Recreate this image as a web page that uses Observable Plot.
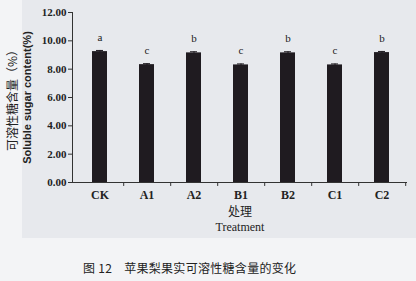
<!DOCTYPE html>
<html><head><meta charset="utf-8">
<script src="https://cdn.jsdelivr.net/npm/d3@7"></script>
<script src="https://cdn.jsdelivr.net/npm/@observablehq/plot@0.6"></script>
<style>
html,body{margin:0;padding:0;background:#f3f4f6;}
#wrap{position:relative;width:416px;height:281px;overflow:hidden;background:#f3f4f6;}
#panel{position:absolute;left:22px;top:0;width:394px;height:238px;background:#e7e9ed;}
#chart{position:absolute;left:0;top:0;}
#caption{position:absolute;left:83px;top:259px;font-family:"Noto Sans CJK SC",sans-serif;font-size:12px;color:#222;white-space:pre;letter-spacing:0.3px;}
</style></head>
<body><div id="wrap"><div id="panel"></div><div id="chart"></div><div id="caption">图 12    苹果梨果实可溶性糖含量的变化</div></div>
<script>
const categories = ["CK","A1","A2","B1","B2","C1","C2"];
const values = [9.24, 8.32, 9.15, 8.30, 9.15, 8.30, 9.17];
const errors = [0.08, 0.07, 0.08, 0.07, 0.08, 0.07, 0.08];
const letters = ["a","c","b","c","b","c","b"];
const yTicks = [0,2,4,6,8,10,12];
const yTitleCn = "可溶性糖含量（%）";
const yTitleEn = "Soluble sugar content(%)";
const xTitleCn = "处理";
const xTitleEn = "Treatment";

const data = categories.map((c,i)=>({cat:c, v:values[i], e:errors[i], l:letters[i]}));
const ink = "#1f1b20";
const serif = "'Liberation Serif', 'DejaVu Serif', serif";
const cjk = "'Noto Sans CJK SC', sans-serif";

const chart = Plot.plot({
  width: 416, height: 240,
  marginLeft: 72, marginRight: 9, marginTop: 12, marginBottom: 58,
  style: {background: "transparent", fontFamily: serif, color: "#222", overflow: "visible"},
  x: {domain: categories, range: [75, 407], paddingInner: 0.68, paddingOuter: 0.34, axis: null},
  y: {domain: [0, 12], axis: null},
  marks: [
    Plot.barY(data, {x: "cat", y: "v", fill: ink}),
    Plot.ruleX(data, {x: "cat", y1: d => d.v - d.e, y2: d => d.v + d.e, stroke: ink, strokeWidth: 1}),
    Plot.tickY(data, {x: "cat", y: d => d.v + d.e, stroke: ink, strokeWidth: 1, insetLeft: 4, insetRight: 4}),
    Plot.text(data, {x: "cat", y: d => d.v + d.e, text: "l", dy: -13, fontSize: 11, fontFamily: serif, fill: "#222"}),
    Plot.ruleY([0], {stroke: "#333", strokeWidth: 1}),
    Plot.frame({anchor: "left", stroke: "#333", strokeWidth: 1}),
    Plot.ruleX(categories, {x: d => d, y1: 0, y2: -0.28, dx: 23.7, stroke: "#333", strokeWidth: 1, clip: false}),
    Plot.axisY(yTicks, {label: null, tickSize: 4, tickPadding: 2, tickFormat: d => d.toFixed(2), fontSize: 11, fontWeight: "bold", fontFamily: serif, stroke: "#333", fill: "#222"}),
    Plot.axisX({tickSize: 0, tickPadding: 8, fontSize: 12, fontWeight: "bold", fontFamily: serif, fill: "#222", label: null}),
    Plot.text([yTitleCn], {frameAnchor: "left", textAnchor: "middle", dx: -59, rotate: -90, fontSize: 12, fontFamily: cjk, fill: "#222"}),
    Plot.text([yTitleEn], {frameAnchor: "left", textAnchor: "middle", dx: -45, rotate: -90, fontSize: 11, fontWeight: "bold", fontFamily: "'Liberation Sans', Arial, sans-serif", fill: "#222"}),
    Plot.text([xTitleCn], {frameAnchor: "bottom", dy: 33, fontSize: 12, fontFamily: cjk, fill: "#222"}),
    Plot.text([xTitleEn], {frameAnchor: "bottom", dy: 48, fontSize: 12, fontFamily: serif, fill: "#222"})
  ]
});
document.getElementById("chart").appendChild(chart);
</script></body></html>
